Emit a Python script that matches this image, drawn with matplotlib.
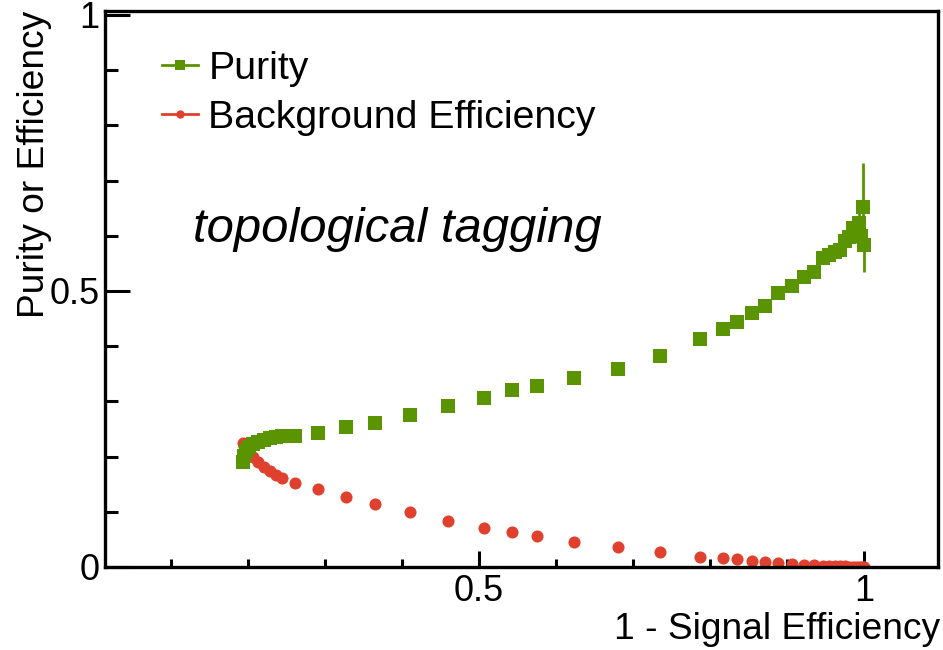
import matplotlib
matplotlib.use('Agg')
import matplotlib.pyplot as plt
from matplotlib.lines import Line2D
from matplotlib.ticker import MultipleLocator

plt.rcParams['font.family'] = ['Liberation Sans', 'DejaVu Sans']

# 1 - signal efficiency for each cut value
one_minus_sig = [0.1935, 0.1948, 0.1974, 0.2013, 0.2065, 0.2130, 0.2208, 0.2286, 0.2364, 0.2442,
                 0.2610, 0.2909, 0.3273, 0.3649, 0.4104, 0.4597, 0.5065, 0.5429, 0.5753, 0.6234,
                 0.6805, 0.7351, 0.7870, 0.8169, 0.8351, 0.8545, 0.8714, 0.8883, 0.9065, 0.9221,
                 0.9351, 0.9468, 0.9545, 0.9623, 0.9688, 0.9753, 0.9805, 0.9857, 0.9896, 0.9935,
                 0.9961, 0.9987, 1.0]

purity = [0.1902, 0.2011, 0.2101, 0.2174, 0.2228, 0.2264, 0.2301, 0.2328, 0.2346, 0.2364,
          0.2373, 0.2428, 0.2536, 0.2609, 0.2754, 0.2917, 0.3062, 0.3207, 0.3279, 0.3424,
          0.3587, 0.3822, 0.4130, 0.4312, 0.4438, 0.4601, 0.4728, 0.4964, 0.5091, 0.5254,
          0.5344, 0.5598, 0.5652, 0.5700, 0.5743, 0.5900, 0.5978, 0.6141, 0.6050, 0.6232,
          0.6000, 0.6520, 0.5830]

purity_err = [0.001] * 29 + [0.004, 0.005, 0.006, 0.007, 0.008, 0.009, 0.011, 0.013, 0.016,
                             0.019, 0.022, 0.027, 0.080, 0.049]

bkg_eff = [0.2246, 0.2192, 0.2138, 0.2065, 0.1993, 0.1902, 0.1812, 0.1739, 0.1667, 0.1612,
           0.1522, 0.1413, 0.1268, 0.1141, 0.0996, 0.0833, 0.0707, 0.0634, 0.0562, 0.0453,
           0.0362, 0.0272, 0.0181, 0.0163, 0.0145, 0.0109, 0.0091, 0.0072, 0.0054, 0.0036,
           0.0030, 0.0025, 0.0021, 0.0017, 0.0014, 0.0011, 0.0009, 0.0007, 0.0005, 0.0003,
           0.0002, 0.0001, 0.0]

green = '#5a9400'
red = '#e0402e'

W, H = 943, 650
fig = plt.figure(figsize=(W / 100, H / 100), dpi=100)
ax = fig.add_axes([105 / W, 1 - 567 / H, (938 - 105) / W, (567 - 11) / H])

ax.errorbar(one_minus_sig, purity, yerr=purity_err, fmt='s', color=green, ms=9.6,
            elinewidth=2, capsize=3.6, capthick=2, mew=0)
ax.plot(one_minus_sig, bkg_eff, 'o', color=red, ms=8.7, mew=0)

ax.set_xlim(0.0143, 1.0961)
ax.set_ylim(0, 1.007)

ax.set_xticks([0.5, 1.0], ['0.5', '1'])
ax.set_yticks([0, 0.5, 1.0], ['0', '0.5', '1'])
ax.xaxis.set_minor_locator(MultipleLocator(0.1))
ax.yaxis.set_minor_locator(MultipleLocator(0.1))
ax.tick_params(which='both', direction='in', width=2.2, color='black',
               labelsize=26, top=False, right=False)
ax.tick_params(axis='x', which='major', length=11.5, pad=5)
ax.tick_params(axis='x', which='minor', length=6)
ax.tick_params(axis='y', which='major', length=18, pad=4)
ax.tick_params(axis='y', which='minor', length=9)
for s in ax.spines.values():
    s.set_linewidth(2.4)

ax.set_xlabel('1 - Signal Efficiency', fontsize=26.7, loc='right')
ax.xaxis.set_label_coords(940 / W, 1 - 612 / H, transform=fig.transFigure)
ax.set_ylabel('Purity or Efficiency', fontsize=26.7, loc='top')
ax.yaxis.set_label_coords(52 / W, 1 - 11 / H, transform=fig.transFigure)

handles = [Line2D([], [], color=green, marker='s', ms=6.5, lw=2, mew=0),
           Line2D([], [], color=red, marker='o', ms=6, lw=2, mew=0)]
fig.legend(handles, ['Purity', 'Background Efficiency'], loc='upper left',
           bbox_to_anchor=(162 / W, 1 - 51 / H), frameon=False, fontsize=28.3,
           handlelength=0.92, handletextpad=0.26, borderpad=0, borderaxespad=0,
           labelspacing=0.32)

fig.text(193 / W, 1 - 229 / H, 'topological tagging', fontsize=35.3, style='italic',
         va='center', ha='left')

fig.savefig('out.png', dpi=100)
